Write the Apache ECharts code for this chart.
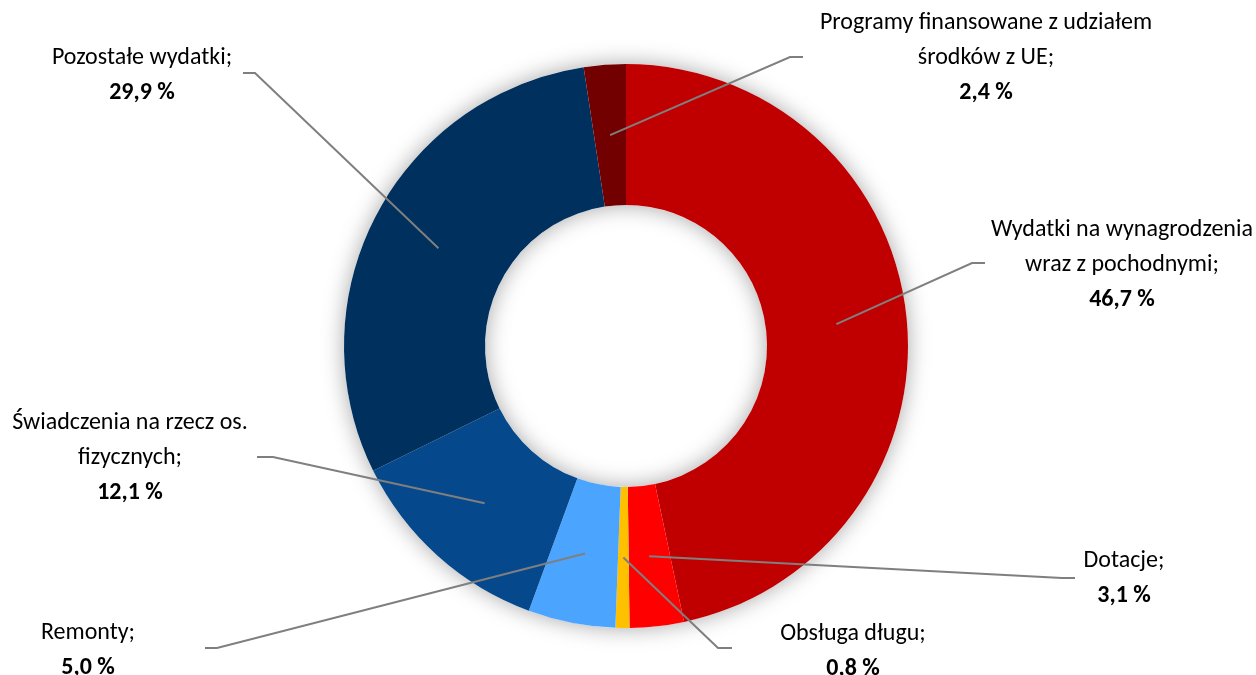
<!DOCTYPE html>
<html><head><meta charset="utf-8">
<script src="https://cdn.jsdelivr.net/npm/echarts@6/dist/echarts.min.js"></script>
<style>html,body{margin:0;padding:0;background:#fff}#c{width:1256px;height:675px}</style>
</head><body><div id="c"></div>
<script>
const categories = ['Wydatki na wynagrodzenia\nwraz z pochodnymi;', 'Dotacje;', 'Obsługa długu;', 'Remonty;', 'Świadczenia na rzecz os.\nfizycznych;', 'Pozostałe wydatki;', 'Programy finansowane z udziałem\nśrodków z UE;'];
const shares = [46.7, 3.1, 0.8, 5.0, 12.1, 29.9, 2.4];
const colors = ['#C00000', '#FF0000', '#FFC000', '#4BA5FF', '#05498C', '#00305E', '#730000'];
// label layout (pixels): [centerX, topY, elbowX, elbowY, endX, endY]
const labelPos = [
  [1122, 212, 972, 263, 985, 263],
  [1124, 543, 1062, 578, 1075, 578],
  [853, 616, 718, 648, 732, 648],
  [88, 615, 217, 648, 205, 648],
  [130, 405, 273, 457, 257, 457],
  [142, 40, 255, 73, 243, 73],
  [986, 5, 790, 57, 803, 57]
];
const CX = 626, CY = 346, R0 = 141, R1 = 282;
const FONT = 'Carlito, Lato, sans-serif';
const total = shares.reduce((a, b) => a + b, 0);
function midPoint(i) {
  let before = 0;
  for (let k = 0; k < i; k++) before += shares[k];
  const a = (before + shares[i] / 2) / total * 2 * Math.PI;
  const r = (R0 + R1) / 2;
  return [CX + r * Math.sin(a), CY - r * Math.cos(a)];
}
const fmt = v => v.toFixed(1).replace('.', ',') + ' %';
const data = categories.map((n, i) => ({ name: n, value: shares[i], itemStyle: { color: colors[i] } }));
const chart = echarts.init(document.getElementById('c'), null, { renderer: 'canvas' });
chart.setOption({
  animation: false,
  backgroundColor: '#fff',
  series: [
    {
      type: 'pie', z: 1, silent: true, center: [CX, CY], radius: [R0, R1], startAngle: 90,
      label: { show: false }, labelLine: { show: false },
      itemStyle: { color: '#fff', shadowBlur: 22, shadowColor: 'rgba(0,0,0,0.35)' },
      data: [{ value: 1, name: 'bg' }]
    },
    {
      type: 'pie', z: 2, silent: true, center: [CX, CY], radius: [R0, R1], startAngle: 90,
      label: { show: false }, labelLine: { show: false },
      itemStyle: { borderWidth: 0 },
      data: data
    },
    {
      type: 'pie', z: 3, silent: true, center: [CX, CY], radius: [R0, R1], startAngle: 90,
      avoidLabelOverlap: false,
      itemStyle: { color: 'rgba(0,0,0,0)' },
      label: {
        show: true, position: 'outside', align: 'center', fontFamily: FONT,
        formatter: p => p.name.split('\n').map(s => '{n|' + s + '}').join('\n') + '\n{v|' + fmt(p.value) + '}',
        rich: {
          n: { fontFamily: FONT, fontSize: 24, lineHeight: 35, color: '#000' },
          v: { fontFamily: FONT, fontSize: 24, lineHeight: 35, color: '#000', fontWeight: 'bold' }
        }
      },
      labelLine: { show: true, length: 10, length2: 10, lineStyle: { color: '#7f7f7f', width: 2 } },
      labelLayout: function (params) {
        const i = params.dataIndex;
        const p = labelPos[i];
        const s = midPoint(i);
        return {
          x: p[0], y: p[1], align: 'center', verticalAlign: 'top',
          labelLinePoints: [s, [p[2], p[3]], [p[4], p[5]]]
        };
      },
      data: categories.map((n, i) => ({ name: n, value: shares[i] }))
    }
  ]
});
</script>
</body></html>
